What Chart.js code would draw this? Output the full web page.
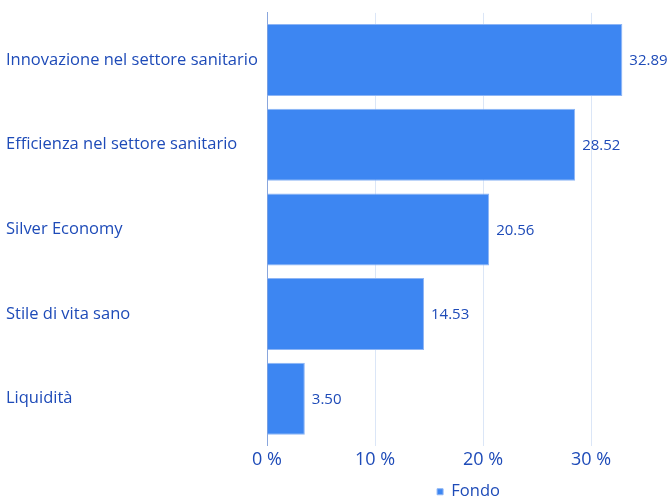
<!DOCTYPE html>
<html><head><meta charset="utf-8">
<script src="https://cdn.jsdelivr.net/npm/chart.js@4"></script>
<style>html,body{margin:0;padding:0;background:#fff}#wrap{width:670px;height:499px}</style>
</head><body><div id="wrap"><canvas id="c"></canvas></div>
<script>
const categories = ["Innovazione nel settore sanitario","Efficienza nel settore sanitario","Silver Economy","Stile di vita sano","Liquidità"];
const fondo = [32.89, 28.52, 20.56, 14.53, 3.50];
const xTickValues = [0, 10, 20, 30];
const seriesName = "Fondo";
const txt = '#1e4bb8';
const FONT = "'Open Sans', sans-serif";

class PaddedCategory extends Chart.CategoryScale {
  getPixelForDecimal(d) {
    const e = this.options.extraPad || 0;
    const n = this._valueRange || 1;
    return super.getPixelForDecimal((d * n + e) / (n + 2 * e));
  }
}
PaddedCategory.id = 'paddedCategory';
PaddedCategory.defaults = Chart.CategoryScale.defaults;
Chart.register(PaddedCategory);

const labelPlugin = {
  id: 'barLabels',
  afterDatasetsDraw(chart) {
    const ctx = chart.ctx;
    const meta = chart.getDatasetMeta(0);
    ctx.save();
    ctx.font = "15px " + FONT;
    ctx.fillStyle = txt;
    ctx.textAlign = 'left';
    ctx.textBaseline = 'middle';
    meta.data.forEach((bar, i) => {
      ctx.fillText(fondo[i].toFixed(2), bar.x + 7, bar.y + 1);
    });
    ctx.restore();
  }
};

new Chart(document.getElementById('c'), {
  type: 'bar',
  data: {
    labels: categories,
    datasets: [{
      label: seriesName,
      data: fondo,
      backgroundColor: '#3d86f2',
      borderColor: '#8db5f5',
      borderWidth: 1,
      borderSkipped: 'left',
      barPercentage: 0.85,
      categoryPercentage: 1
    }]
  },
  options: {
    indexAxis: 'y',
    responsive: true,
    maintainAspectRatio: false,
    animation: false,
    layout: { padding: { left: 6, top: 10, right: 0, bottom: -11 } },
    plugins: {
      legend: {
        position: 'bottom',
        fullSize: false,
        labels: { usePointStyle: true, pointStyle: 'rect', boxWidth: 6, boxHeight: 6, color: txt, font: { family: FONT, size: 16.5 }, padding: 6 }
      },
      tooltip: { enabled: false }
    },
    scales: {
      x: {
        min: 0, max: 37.3,
        afterBuildTicks(s) { s.ticks = xTickValues.map(v => ({ value: v })); },
        afterFit(s) { s.height += 4; },
        ticks: { color: txt, font: { family: FONT, size: 18 }, callback: v => v + ' %', padding: 3 },
        grid: { color: '#dbe6f7', drawTicks: false },
        border: { display: false }
      },
      y: {
        type: 'paddedCategory',
        extraPad: 0.057,
        afterFit(s) { s.width = 261; },
        ticks: { crossAlign: 'far', color: txt, font: { family: FONT, size: 16.5 } },
        grid: { display: false },
        border: { display: true, color: '#8aa6dc', width: 1 }
      }
    }
  },
  plugins: [labelPlugin]
});
</script></body></html>
